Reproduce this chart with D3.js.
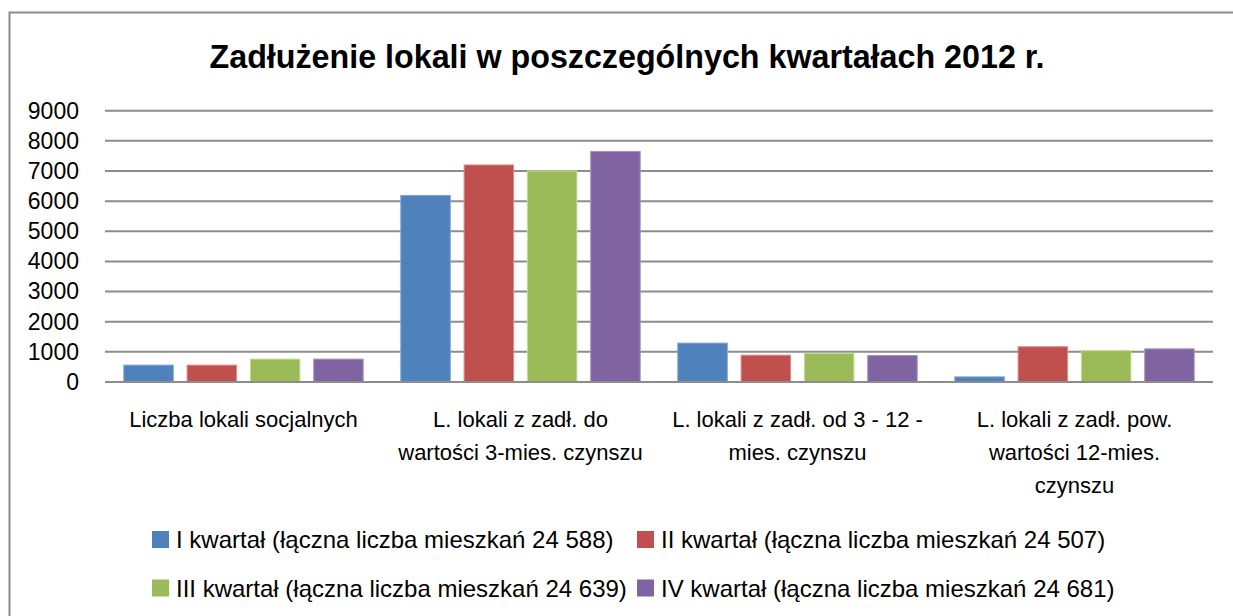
<!DOCTYPE html>
<html>
<head>
<meta charset="utf-8">
<script src="https://cdn.jsdelivr.net/npm/d3@7"></script>
<style>
  body { margin: 0; background: #fff; }
  text { font-family: "Liberation Sans", Arial, sans-serif; fill: #000; }
</style>
</head>
<body>
<div id="chart"></div>
<script>
var categories = [
    ["Liczba lokali socjalnych"],
    ["L. lokali z zadł. do", "wartości 3-mies. czynszu"],
    ["L. lokali z zadł. od  3 - 12 -", "mies. czynszu"],
    ["L. lokali z zadł. pow.", "wartości 12-mies.", "czynszu"]
];
var seriesNames = [
    "I kwartał (łączna liczba mieszkań 24 588)",
    "II kwartał (łączna liczba mieszkań 24 507)",
    "III kwartał (łączna liczba mieszkań 24 639)",
    "IV kwartał (łączna liczba mieszkań 24 681)"
];
var q1 = [560, 6190, 1290, 170];
var q2 = [560, 7200, 890, 1170];
var q3 = [760, 7000, 950, 1040];
var q4 = [760, 7650, 880, 1100];
var yTicks = [0, 1000, 2000, 3000, 4000, 5000, 6000, 7000, 8000, 9000];
var colors = ["#4F81BD", "#C0504D", "#9BBB59", "#8064A2"];
var strokes = ["#7ea6d6", "#e08a88", "#c3dc94", "#a893c4"];

var width = 1233, height = 616;
var series = [q1, q2, q3, q4];

var svg = d3.select("#chart").append("svg")
    .attr("width", width)
    .attr("height", height);

// chart frame
svg.append("rect")
    .attr("x", 9.5).attr("y", 12.5)
    .attr("width", 1240).attr("height", 620)
    .attr("fill", "none")
    .attr("stroke", "#8c8c8c")
    .attr("stroke-width", 2);

svg.append("text")
    .attr("x", 627).attr("y", 68)
    .attr("text-anchor", "middle")
    .attr("textLength", 835)
    .attr("lengthAdjust", "spacingAndGlyphs")
    .style("font-size", "34px")
    .style("font-weight", "bold")
    .text("Zadłużenie lokali w poszczególnych kwartałach 2012 r.");

var x0 = d3.scaleBand()
    .domain(d3.range(categories.length))
    .range([105, 1213]);

var pad = 18.8;
var x1 = d3.scaleBand()
    .domain(d3.range(series.length))
    .range([pad, x0.bandwidth() - pad])
    .paddingInner(0.218)
    .paddingOuter(0);

var y = d3.scaleLinear()
    .domain([0, 9000])
    .range([382, 110.7]);

// gridlines
svg.append("g")
    .selectAll("line")
    .data(yTicks)
    .join("line")
    .attr("x1", 105).attr("x2", 1213)
    .attr("y1", function(d){ return y(d); })
    .attr("y2", function(d){ return y(d); })
    .attr("stroke", "#8c8c8c")
    .attr("stroke-width", 2);

// y axis labels
var yAxis = d3.axisLeft(y).tickValues(yTicks).tickSize(0).tickPadding(0).tickFormat(d3.format("d"));
var yg = svg.append("g").attr("transform", "translate(79,0)").call(yAxis);
yg.select(".domain").remove();
yg.selectAll("text")
    .style("font-family", "'Liberation Sans', Arial, sans-serif")
    .style("font-size", "23px")
    .attr("fill", "#000");

// bars
var groups = svg.append("g")
    .selectAll("g")
    .data(categories.map(function(c, i){ return i; }))
    .join("g")
    .attr("transform", function(i){ return "translate(" + x0(i) + ",0)"; });

groups.selectAll("rect")
    .data(function(i){ return series.map(function(s, k){ return {k: k, v: s[i]}; }); })
    .join("rect")
    .attr("x", function(d){ return x1(d.k); })
    .attr("y", function(d){ return y(d.v); })
    .attr("width", x1.bandwidth())
    .attr("height", function(d){ return y(0) - y(d.v); })
    .attr("fill", function(d){ return colors[d.k]; })
    .attr("stroke", function(d){ return strokes[d.k]; })
    .attr("stroke-width", 1);

// redraw baseline over bars
svg.append("line")
    .attr("x1", 105).attr("x2", 1213)
    .attr("y1", y(0)).attr("y2", y(0))
    .attr("stroke", "#8c8c8c")
    .attr("stroke-width", 2);

// category labels
var catLabels = svg.append("g")
    .selectAll("text")
    .data(categories)
    .join("text")
    .attr("text-anchor", "middle")
    .style("font-size", "22px")
    .attr("transform", function(d, i){ return "translate(" + (x0(i) + x0.bandwidth() / 2) + ",427)"; });
catLabels.selectAll("tspan")
    .data(function(d){ return d; })
    .join("tspan")
    .attr("x", 0)
    .attr("y", function(d, j){ return j * 33; })
    .text(function(d){ return d; });

// legend
var legX = [152, 637];
var legY = [531, 579.5];
var leg = svg.append("g")
    .selectAll("g")
    .data(seriesNames)
    .join("g")
    .attr("transform", function(d, i){ return "translate(" + legX[i % 2] + "," + legY[Math.floor(i / 2)] + ")"; });
leg.append("rect")
    .attr("width", 17).attr("height", 17)
    .attr("fill", function(d, i){ return colors[i]; });
leg.append("text")
    .attr("x", 24).attr("y", 17)
    .style("font-size", "24px")
    .text(function(d){ return d; });
</script>
</body>
</html>
